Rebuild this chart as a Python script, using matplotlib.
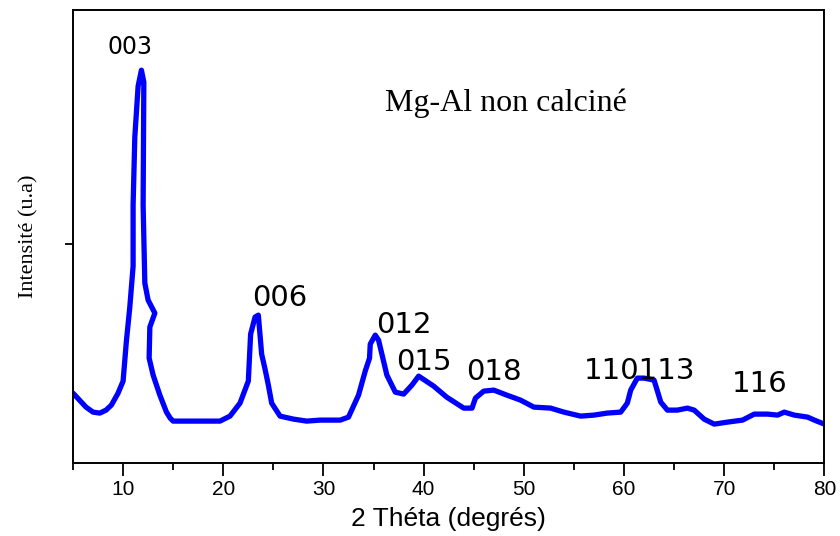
import matplotlib
matplotlib.use("Agg")
import matplotlib.pyplot as plt
from matplotlib.ticker import MultipleLocator

# XRD pattern (2 theta in degrees, intensity in arbitrary units)
two_theta = [5.0, 6.3, 7.0, 7.67, 8.3, 8.83, 9.5, 10.0, 10.33, 10.67, 11.0, 11.0, 11.17, 11.5, 11.83,
             12.07, 12.0, 12.17, 12.5, 13.17, 12.67, 12.6, 13.0, 13.67, 14.33, 14.7, 15.0,
             19.67, 20.67, 21.67, 22.5, 22.73, 23.17, 23.5, 23.83, 24.17, 24.5, 24.83,
             25.67, 27.0, 28.33, 29.67, 31.67, 32.5, 33.5, 34.17, 34.6, 34.67, 35.17,
             35.5, 36.33, 37.17, 38.0, 38.83, 39.5, 41.0, 42.3, 44.0, 44.83, 45.17,
             46.0, 47.0, 48.3, 49.67, 51.0, 52.67, 54.0, 55.67, 57.0, 58.3, 59.67,
             60.33, 60.67, 61.33, 62.0, 63.0, 63.67, 64.33, 65.33, 66.33, 67.0, 68.0,
             69.0, 70.33, 71.83, 73.0, 74.33, 75.33, 76.0, 77.0, 78.33, 79.0, 80.0]
intensity = [70, 56, 51, 50, 53, 58, 70, 82, 122, 156, 197, 258, 326, 377, 393,
             381, 258, 180, 163, 150, 136, 105, 88, 68, 51, 45, 42,
             42, 47, 60, 82, 129, 146, 148, 109, 94, 78, 60,
             47, 44, 42, 43, 43, 46, 68, 92, 105, 119, 128,
             123, 88, 71, 69, 78, 87, 77, 66, 55, 55, 65,
             72, 73, 68, 63, 56, 55, 51, 47, 48, 50, 51,
             60, 73, 85, 85, 83, 61, 53, 53, 55, 53, 44,
             39, 41, 43, 49, 49, 48, 51, 48, 46, 43, 39]

# peak labels (hkl) and where they sit
peak_labels = ["003", "006", "012", "015", "018", "110113", "116"]
label_x = [10.67, 25.6, 38.0, 40.0, 47.0, 61.6, 73.5]
label_y = [416, 165, 138, 101, 91, 92, 79]
label_size = [17, 21, 21, 21, 21, 21, 21]

fig = plt.figure(figsize=(8.4, 5.36), dpi=100)
ax = fig.add_axes([0.0869, 0.136, 0.8945, 0.845])

ax.plot(two_theta, intensity, color="#0000ff", lw=3.8,
        solid_joinstyle="round", solid_capstyle="round")

for lab, x, y, s in zip(peak_labels, label_x, label_y, label_size):
    ax.text(x, y, lab, ha="center", va="center", fontsize=s, family="DejaVu Sans")

ax.text(48.2, 360, "Mg-Al non calciné", ha="center", va="center",
        fontsize=23, family="Liberation Serif")

ax.set_xlim(5, 80)
ax.set_ylim(0, 453)
ax.xaxis.set_major_locator(MultipleLocator(10))
ax.xaxis.set_minor_locator(MultipleLocator(5))
ax.set_yticks([219])
ax.set_yticklabels([])
ax.tick_params(axis="x", which="major", length=9, width=1.3, labelsize=15, pad=3)
ax.tick_params(axis="x", which="minor", length=5, width=1.3)
ax.tick_params(axis="y", length=6, width=1.3)
for lab in ax.get_xticklabels():
    lab.set_family("Liberation Sans")
for sp in ax.spines.values():
    sp.set_linewidth(1.4)

ax.set_xlabel("2 Théta (degrés)", fontsize=19, family="Liberation Sans", labelpad=6)
ax.set_ylabel("Intensité (u.a)", fontsize=16, family="Liberation Serif", labelpad=15)

fig.savefig("out.png", dpi=100)
